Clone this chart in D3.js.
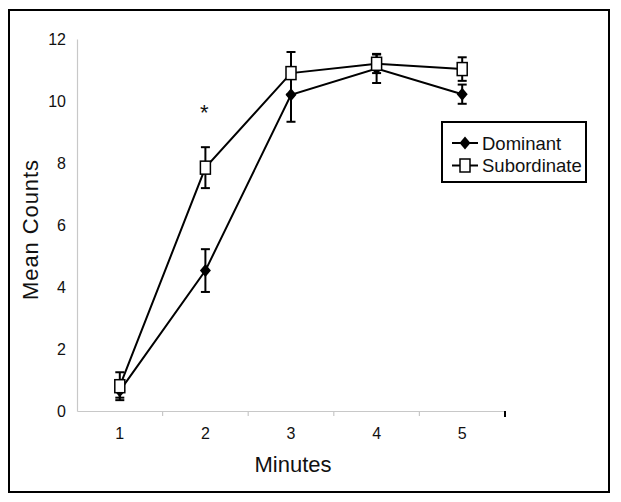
<!DOCTYPE html>
<html>
<head>
<meta charset="utf-8">
<script src="https://cdn.jsdelivr.net/npm/d3@7"></script>
<style>
  html, body { margin: 0; padding: 0; background: #fff; }
  svg { display: block; font-family: "Liberation Sans", Arial, sans-serif; }
</style>
</head>
<body>
<svg id="chart" width="621" height="502"></svg>
<script>
// ---- data ----
const minutes = ["1", "2", "3", "4", "5"];
const dominantMean = [0.65, 4.53, 10.2, 11.05, 10.22];
const dominantErr  = [0.22, 0.69, 0.87, 0.47, 0.31];
const subordinateMean = [0.8, 7.85, 10.9, 11.2, 11.03];
const subordinateErr  = [0.45, 0.66, 0.68, 0.3, 0.38];
const yTicks = [0, 2, 4, 6, 8, 10, 12];
const seriesNames = ["Dominant", "Subordinate"];
const significant = ["2"];

// ---- layout ----
const svg = d3.select("#chart");
const x = d3.scaleBand().domain(minutes).range([77, 505]).padding(0);
const y = d3.scaleLinear().domain([0, 12]).range([411, 39]);

// outer frame
svg.append("rect").attr("x", 9).attr("y", 10).attr("width", 600).attr("height", 482)
  .attr("fill", "none").attr("stroke", "#000").attr("stroke-width", 2);

// y axis
const yAxis = svg.append("g").attr("transform", "translate(77,0)")
  .call(d3.axisLeft(y).tickValues(yTicks).tickSize(0).tickPadding(11).tickFormat(d3.format("d")));
yAxis.select(".domain").attr("stroke", "#c8c8c8").attr("stroke-width", 1.2);
yAxis.selectAll("text").attr("font-size", 16).attr("fill", "#111")
  .attr("font-family", "'Liberation Sans', Arial, sans-serif");

// x axis
const xAxis = svg.append("g").attr("transform", "translate(0,411)")
  .call(d3.axisBottom(x).tickSize(0).tickPadding(17));
xAxis.select(".domain").attr("stroke", "#c8c8c8").attr("stroke-width", 1.2);
xAxis.selectAll("text").attr("font-size", 16).attr("fill", "#111")
  .attr("font-family", "'Liberation Sans', Arial, sans-serif");
// boundary ticks between categories
const bounds = minutes.slice(1).map(m => x(m));
xAxis.selectAll(".bnd").data(bounds).enter().append("line")
  .attr("x1", d => d).attr("x2", d => d).attr("y1", 0).attr("y2", 5)
  .attr("stroke", "#c8c8c8").attr("stroke-width", 1.2);
xAxis.append("line").attr("x1", x.range()[1]).attr("x2", x.range()[1])
  .attr("y1", 0).attr("y2", 6).attr("stroke", "#000").attr("stroke-width", 2);

// axis titles
svg.append("text").attr("x", 293).attr("y", 472).attr("text-anchor", "middle")
  .attr("font-size", 22).attr("fill", "#111").text("Minutes");
svg.append("text").attr("transform", "translate(38,230) rotate(-90)").attr("text-anchor", "middle")
  .attr("font-size", 22).attr("fill", "#111").attr("textLength", 140).text("Mean Counts");

const cx = m => x(m) + x.bandwidth() / 2;
const series = [
  { name: seriesNames[0], mean: dominantMean, err: dominantErr, shape: "diamond" },
  { name: seriesNames[1], mean: subordinateMean, err: subordinateErr, shape: "square" }
];

const line = d3.line().x(d => cx(d.m)).y(d => y(d.v));
const diamondPath = (px, py) => `M${px},${py - 6.5}L${px + 5.5},${py}L${px},${py + 6.5}L${px - 5.5},${py}Z`;

series.forEach(s => {
  const pts = minutes.map((m, i) => ({ m, v: s.mean[i], e: s.err[i] }));
  const g = svg.append("g");
  // error bars
  pts.forEach(p => {
    const x0 = cx(p.m);
    g.append("line").attr("x1", x0).attr("x2", x0).attr("y1", y(p.v + p.e)).attr("y2", y(p.v - p.e))
      .attr("stroke", "#000").attr("stroke-width", 2);
    [p.v + p.e, p.v - p.e].forEach(v => g.append("line").attr("x1", x0 - 4.5).attr("x2", x0 + 4.5)
      .attr("y1", y(v)).attr("y2", y(v)).attr("stroke", "#000").attr("stroke-width", 2));
  });
  g.append("path").datum(pts).attr("d", line).attr("fill", "none")
    .attr("stroke", "#000").attr("stroke-width", 2);
  pts.forEach(p => {
    const x0 = cx(p.m), y0 = y(p.v);
    if (s.shape === "diamond") {
      g.append("path").attr("d", diamondPath(x0, y0)).attr("fill", "#000");
    } else {
      g.append("rect").attr("x", x0 - 5).attr("y", y0 - 6.5).attr("width", 10).attr("height", 13)
        .attr("fill", "#fff").attr("stroke", "#000").attr("stroke-width", 1.5);
    }
  });
});

// significance marker
significant.forEach(m => {
  svg.append("text").attr("x", cx(m) - 1).attr("y", 120).attr("text-anchor", "middle")
    .attr("font-size", 22).attr("fill", "#111").text("*");
});

// legend
const lg = svg.append("g");
lg.append("rect").attr("x", 442).attr("y", 122).attr("width", 144).attr("height", 60)
  .attr("fill", "#fff").attr("stroke", "#000").attr("stroke-width", 2);
series.forEach((s, i) => {
  const ly = 143 + i * 22.5;
  lg.append("line").attr("x1", 452).attr("x2", 478).attr("y1", ly).attr("y2", ly)
    .attr("stroke", "#000").attr("stroke-width", 2);
  if (s.shape === "diamond") {
    lg.append("path").attr("d", diamondPath(465, ly)).attr("fill", "#000");
  } else {
    lg.append("rect").attr("x", 460).attr("y", ly - 6.5).attr("width", 10).attr("height", 13)
      .attr("fill", "#fff").attr("stroke", "#000").attr("stroke-width", 1.5);
  }
  lg.append("text").attr("x", 482).attr("y", ly + 6.5).attr("font-size", 18.5).attr("fill", "#111").text(s.name);
});
</script>
</body>
</html>
